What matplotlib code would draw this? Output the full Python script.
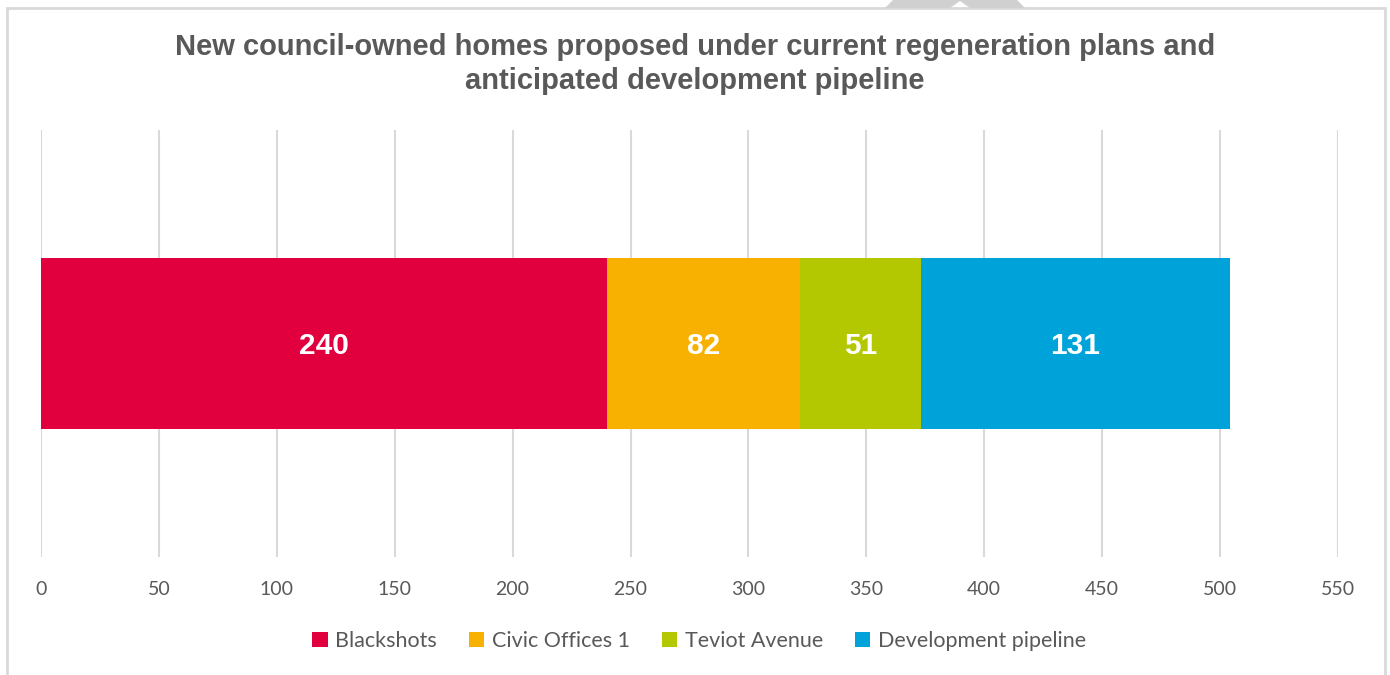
import numpy as np
import matplotlib.pyplot as plt
from matplotlib.patches import Patch, Rectangle, Polygon

# Homes per scheme (single stacked bar)
schemes = ["Blackshots", "Civic Offices 1", "Teviot Avenue", "Development pipeline"]
homes = [240, 82, 51, 131]
colours = ["#E1003D", "#F8B100", "#B3C800", "#00A3D9"]
x_ticks = list(range(0, 551, 50))

title = ("New council-owned homes proposed under current regeneration plans and\n"
         "anticipated development pipeline")

W, H = 1390, 675
fig = plt.figure(figsize=(W / 100, H / 100), dpi=100)
ax = fig.add_axes([41 / W, 1 - 557 / H, (1338 - 41) / W, (557 - 130) / H])

left = 0
for name, val, col in zip(schemes, homes, colours):
    ax.barh(0, val, left=left, height=0.4, color=col, zorder=3)
    ax.text(left + val / 2, 0, str(val), ha="center", va="center_baseline",
            color="white", fontsize=21.5, fontweight="bold",
            family="Liberation Sans", zorder=4)
    left += val

ax.set_xlim(0, 550)
ax.set_ylim(-0.5, 0.5)
ax.set_xticks(x_ticks)
ax.set_yticks([])
ax.grid(axis="x", color="#D9D9D9", linewidth=1.5, zorder=0)
for s in ax.spines.values():
    s.set_visible(False)
ax.tick_params(axis="x", length=0, pad=17, labelsize=14, labelcolor="#595959")
for lbl in ax.get_xticklabels():
    lbl.set_family("Lato")

fig.text(0.5, 1 - 64 / H, title, ha="center", va="center", fontsize=21,
         fontweight="bold", color="#595959", family="Liberation Sans",
         linespacing=1.28)

handles = [Patch(facecolor=c, edgecolor="none") for c in colours]
fig.legend(handles, schemes, loc="center", bbox_to_anchor=(0.503, 1 - 641 / H),
           ncol=4, frameon=False, handlelength=0.7, handleheight=0.7,
           handletextpad=0.35, columnspacing=1.5,
           prop={"family": "Lato", "size": 15.5}, labelcolor="#595959")

# chart frame and small tab at the top edge
fig.add_artist(Rectangle((7 / W, -0.1), (1385 - 7) / W, 1.1 - 8 / H,
                         transform=fig.transFigure, fill=False,
                         edgecolor="#D9D9D9", linewidth=2))
tab = np.array([[885, 8], [893, 0], [1017, 0], [1025, 8], [970, 8],
                [960, 1], [950, 8]], dtype=float)
tab[:, 0] /= W
tab[:, 1] = 1 - tab[:, 1] / H
fig.add_artist(Polygon(tab, closed=True, transform=fig.transFigure,
                       facecolor="#D0D0D0", edgecolor="none"))

fig.savefig("out.png", dpi=100)
